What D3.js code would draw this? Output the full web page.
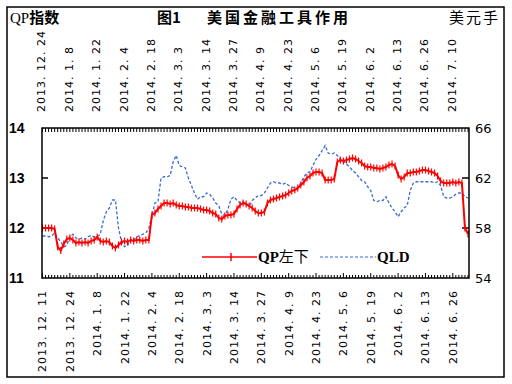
<!DOCTYPE html>
<html><head><meta charset="utf-8">
<script src="https://cdn.jsdelivr.net/npm/d3@7"></script>
<style>body{margin:0;background:#fff} svg{display:block}</style>
</head><body>
<script>
const bottomLabels = ["2013. 12. 11","2013. 12. 24","2014. 1. 8","2014. 1. 22","2014. 2. 4","2014. 2. 18","2014. 3. 3","2014. 3. 14","2014. 3. 27","2014. 4. 9","2014. 4. 23","2014. 5. 6","2014. 5. 19","2014. 6. 2","2014. 6. 13","2014. 6. 26"];
const topLabels = ["2013. 12. 24","2014. 1. 8","2014. 1. 22","2014. 2. 4","2014. 2. 18","2014. 3. 3","2014. 3. 14","2014. 3. 27","2014. 4. 9","2014. 4. 23","2014. 5. 6","2014. 5. 19","2014. 6. 2","2014. 6. 13","2014. 6. 26","2014. 7. 10"];
const leftTicks = [11, 12, 13, 14];
const rightTicks = [54, 58, 62, 66];
const qp = [12.0,12.0,12.0,12.0,11.98, 11.62,11.55,11.68,11.78,11.8, 11.76,11.7,11.72,11.7,11.72,
  11.7,11.74,11.76,11.82,11.74, 11.72,11.74,11.72,11.64,11.6, 11.66,11.72,11.74,11.72,11.76,
  11.74,11.76,11.76,11.74,11.76,11.76, 12.26,12.3,12.38,12.44,12.5, 12.5,12.48,12.5,12.46,12.44,
  12.44,12.42,12.42,12.4,12.4, 12.4,12.38,12.36,12.36,12.34, 12.3,12.28,12.2,12.18,12.24,
  12.26,12.26,12.28,12.38,12.46, 12.5,12.48,12.44,12.4,12.34, 12.3,12.3,12.32,12.5,12.56,
  12.58,12.6,12.62,12.64,12.66, 12.7,12.74,12.76,12.8,12.86, 12.92,13.0,13.04,13.1,13.12,
  13.12,13.1,12.96,12.96,12.96,12.98, 13.32,13.36,13.34,13.36,13.38, 13.4,13.38,13.34,13.3,13.24,
  13.22,13.22,13.2,13.2,13.18, 13.2,13.22,13.26,13.28,13.24, 13.06,12.98,13.02,13.1,13.1,
  13.12,13.12,13.14,13.16,13.16, 13.14,13.12,13.1,13.04,12.94, 12.9,12.9,12.9,12.92,12.9,
  12.92,12.9,12.0,11.88];
const qld = [57.36,57.36,57.3,57.36,57.6, 57.2,56.9,56.5,56.6,57.3, 57.5,57.2,57.1,57.2,57.1,
  57.3,57.4,57.3,57.3,57.5, 58.6,59.3,59.6,60.24,60.24, 58.0,56.9,56.5,56.6,57.1,
  57.0,57.3,57.4,57.5,57.6, 58.0,59.0,60.0,60.1,62.0, 62.1,62.1,62.2,63.3,63.8,
  63.0,62.9,62.8,62.0,61.4, 60.8,60.3,60.5,60.5,60.8, 60.7,60.4,60.0,59.8,59.1,
  59.0,59.5,60.3,60.5,60.2, 60.0,60.1,59.9,59.7,60.2, 60.4,60.6,60.6,60.8,61.2,
  61.6,61.7,61.6,61.6,61.5, 61.6,61.4,61.3,61.2,61.2, 61.6,62.1,62.4,62.5,63.0,
  63.5,63.8,64.2,64.6,64.0, 63.9,64.0,63.8,63.44,63.4, 63.1,62.9,62.6,62.4,62.1,
  61.8,61.7,61.3,61.0,60.2, 60.1,60.2,60.2,60.5,60.0, 59.6,59.3,58.9,59.3,59.6,
  59.8,61.0,61.6,61.7,61.7, 61.7,61.7,61.7,61.7,61.6, 61.7,61.4,60.5,60.4,60.4,
  60.5,60.7,60.8,60.8,60.5,60.4];
const labelStep = 9;

const W = 512, H = 384;
const L = 42, R = 469, T = 128, B = 278;
const svg = d3.select("body").append("svg").attr("width", W).attr("height", H);
svg.append("rect").attr("width", W).attr("height", H).attr("fill", "#fff");
svg.append("rect").attr("x", 7).attr("y", 7).attr("width", 497).attr("height", 370)
  .attr("fill", "none").attr("stroke", "#000").attr("stroke-width", 1.5);

const idx = d3.range(qp.length);
const x = d3.scalePoint().domain(idx).range([L + 0.5, R - 1]);
const yL = d3.scaleLinear().domain([11, 14]).range([B, T]);
const yR = d3.scaleLinear().domain([54, 66]).range([B, T]);

// daily ticks on top and bottom
const g = svg.append("g");
g.selectAll(".tt").data(idx).join("line")
  .attr("x1", d => x(d)).attr("x2", d => x(d)).attr("y1", T).attr("y2", T + 4)
  .attr("stroke", "#000").attr("stroke-width", 1);
g.selectAll(".bt").data(idx).join("line")
  .attr("x1", d => x(d)).attr("x2", d => x(d)).attr("y1", B).attr("y2", d => B - (d % labelStep === 0 ? 5 : 3))
  .attr("stroke", "#000").attr("stroke-width", 1);

// y ticks inward
svg.selectAll(".lt").data(leftTicks.slice(1, -1)).join("line")
  .attr("x1", L).attr("x2", L + 6).attr("y1", d => yL(d)).attr("y2", d => yL(d))
  .attr("stroke", "#000").attr("stroke-width", 1.5);
svg.selectAll(".rt").data(rightTicks.slice(1, -1)).join("line")
  .attr("x1", R - 7).attr("x2", R).attr("y1", d => yR(d)).attr("y2", d => yR(d))
  .attr("stroke", "#000").attr("stroke-width", 1.5);

// y labels
svg.selectAll(".ll").data(leftTicks).join("text")
  .attr("x", 9).attr("y", d => yL(d)).attr("dy", "0.36em")
  .attr("font-family", "Liberation Sans, Arial, sans-serif").attr("font-weight", "bold")
  .attr("font-size", 14).text(d => d);
svg.selectAll(".rl").data(rightTicks).join("text")
  .attr("x", 475).attr("y", d => yR(d)).attr("dy", "0.36em")
  .attr("font-family", "DejaVu Sans, sans-serif")
  .attr("font-size", 13).text(d => d);

// date labels
const dateFont = "DejaVu Sans, sans-serif";
svg.selectAll(".bl").data(bottomLabels).join("text")
  .attr("transform", (d, i) => `translate(${x(i * labelStep)},290) rotate(-90)`)
  .attr("text-anchor", "end").attr("dy", "0.36em")
  .attr("font-family", dateFont).attr("font-size", 11).attr("letter-spacing", 1)
  .text(d => d);
svg.selectAll(".tl").data(topLabels).join("text")
  .attr("transform", (d, i) => `translate(${x(i * labelStep) - 1},112) rotate(-90)`)
  .attr("text-anchor", "start").attr("dy", "0.36em")
  .attr("font-family", dateFont).attr("font-size", 11).attr("letter-spacing", 1)
  .text(d => d);

// series
const blue = "#3a6ad8", red = "#ff0000";
svg.append("path").datum(qld)
  .attr("d", d3.line().x((d, i) => x(i)).y(d => yR(d)))
  .attr("fill", "none").attr("stroke", blue).attr("stroke-width", 1.3).attr("stroke-dasharray", "3,2");
svg.append("path").datum(qp)
  .attr("d", d3.line().x((d, i) => x(i)).y(d => yL(d)))
  .attr("fill", "none").attr("stroke", red).attr("stroke-width", 2);
const cross = svg.append("g").attr("stroke", red).attr("stroke-width", 1.2);
cross.selectAll("line").data(qp).join("line")
  .attr("x1", (d, i) => x(i)).attr("x2", (d, i) => x(i))
  .attr("y1", d => yL(d) - 3.5).attr("y2", d => yL(d) + 3.5);

// plot frame
svg.append("rect").attr("x", L).attr("y", T).attr("width", R - L).attr("height", B - T)
  .attr("fill", "none").attr("stroke", "#000").attr("stroke-width", 1.5);

// legend
const lg = svg.append("g");
lg.append("line").attr("x1", 202).attr("x2", 257).attr("y1", 257).attr("y2", 257)
  .attr("stroke", red).attr("stroke-width", 1.5);
lg.append("line").attr("x1", 231).attr("x2", 231).attr("y1", 253).attr("y2", 261)
  .attr("stroke", red).attr("stroke-width", 1.5);
lg.append("text").attr("x", 258).attr("y", 257).attr("dy", "0.36em")
  .attr("font-family", "Noto Sans CJK SC, sans-serif").attr("font-size", 15)
  .html('<tspan font-family="Liberation Serif, serif" font-weight="bold">QP</tspan>左下');
lg.append("line").attr("x1", 320).attr("x2", 376).attr("y1", 257).attr("y2", 257)
  .attr("stroke", blue).attr("stroke-width", 1.2).attr("stroke-dasharray", "3,2");
lg.append("text").attr("x", 377).attr("y", 257).attr("dy", "0.36em")
  .attr("font-family", "Liberation Serif, serif").attr("font-weight", "bold").attr("font-size", 15)
  .text("QLD");

// titles
svg.append("text").attr("x", 10).attr("y", 18).attr("dy", "0.36em")
  .attr("font-family", "Noto Sans CJK SC, sans-serif").attr("font-size", 15).attr("font-weight", "bold")
  .html('<tspan font-family="Liberation Serif, serif" font-weight="normal">QP</tspan>指数');
svg.append("text").attr("x", 157).attr("y", 18).attr("dy", "0.36em")
  .attr("font-family", "Noto Sans CJK SC, sans-serif").attr("font-size", 15).attr("font-weight", "bold")
  .text("图1");
svg.append("text").attr("x", 207).attr("y", 18).attr("dy", "0.36em")
  .attr("font-family", "Noto Sans CJK SC, sans-serif").attr("font-size", 15).attr("font-weight", "bold")
  .attr("letter-spacing", 3).text("美国金融工具作用");
svg.append("text").attr("x", 449).attr("y", 18).attr("dy", "0.36em")
  .attr("font-family", "Noto Sans CJK SC, sans-serif").attr("font-size", 15)
  .attr("letter-spacing", 2).text("美元手");
</script>
</body></html>
